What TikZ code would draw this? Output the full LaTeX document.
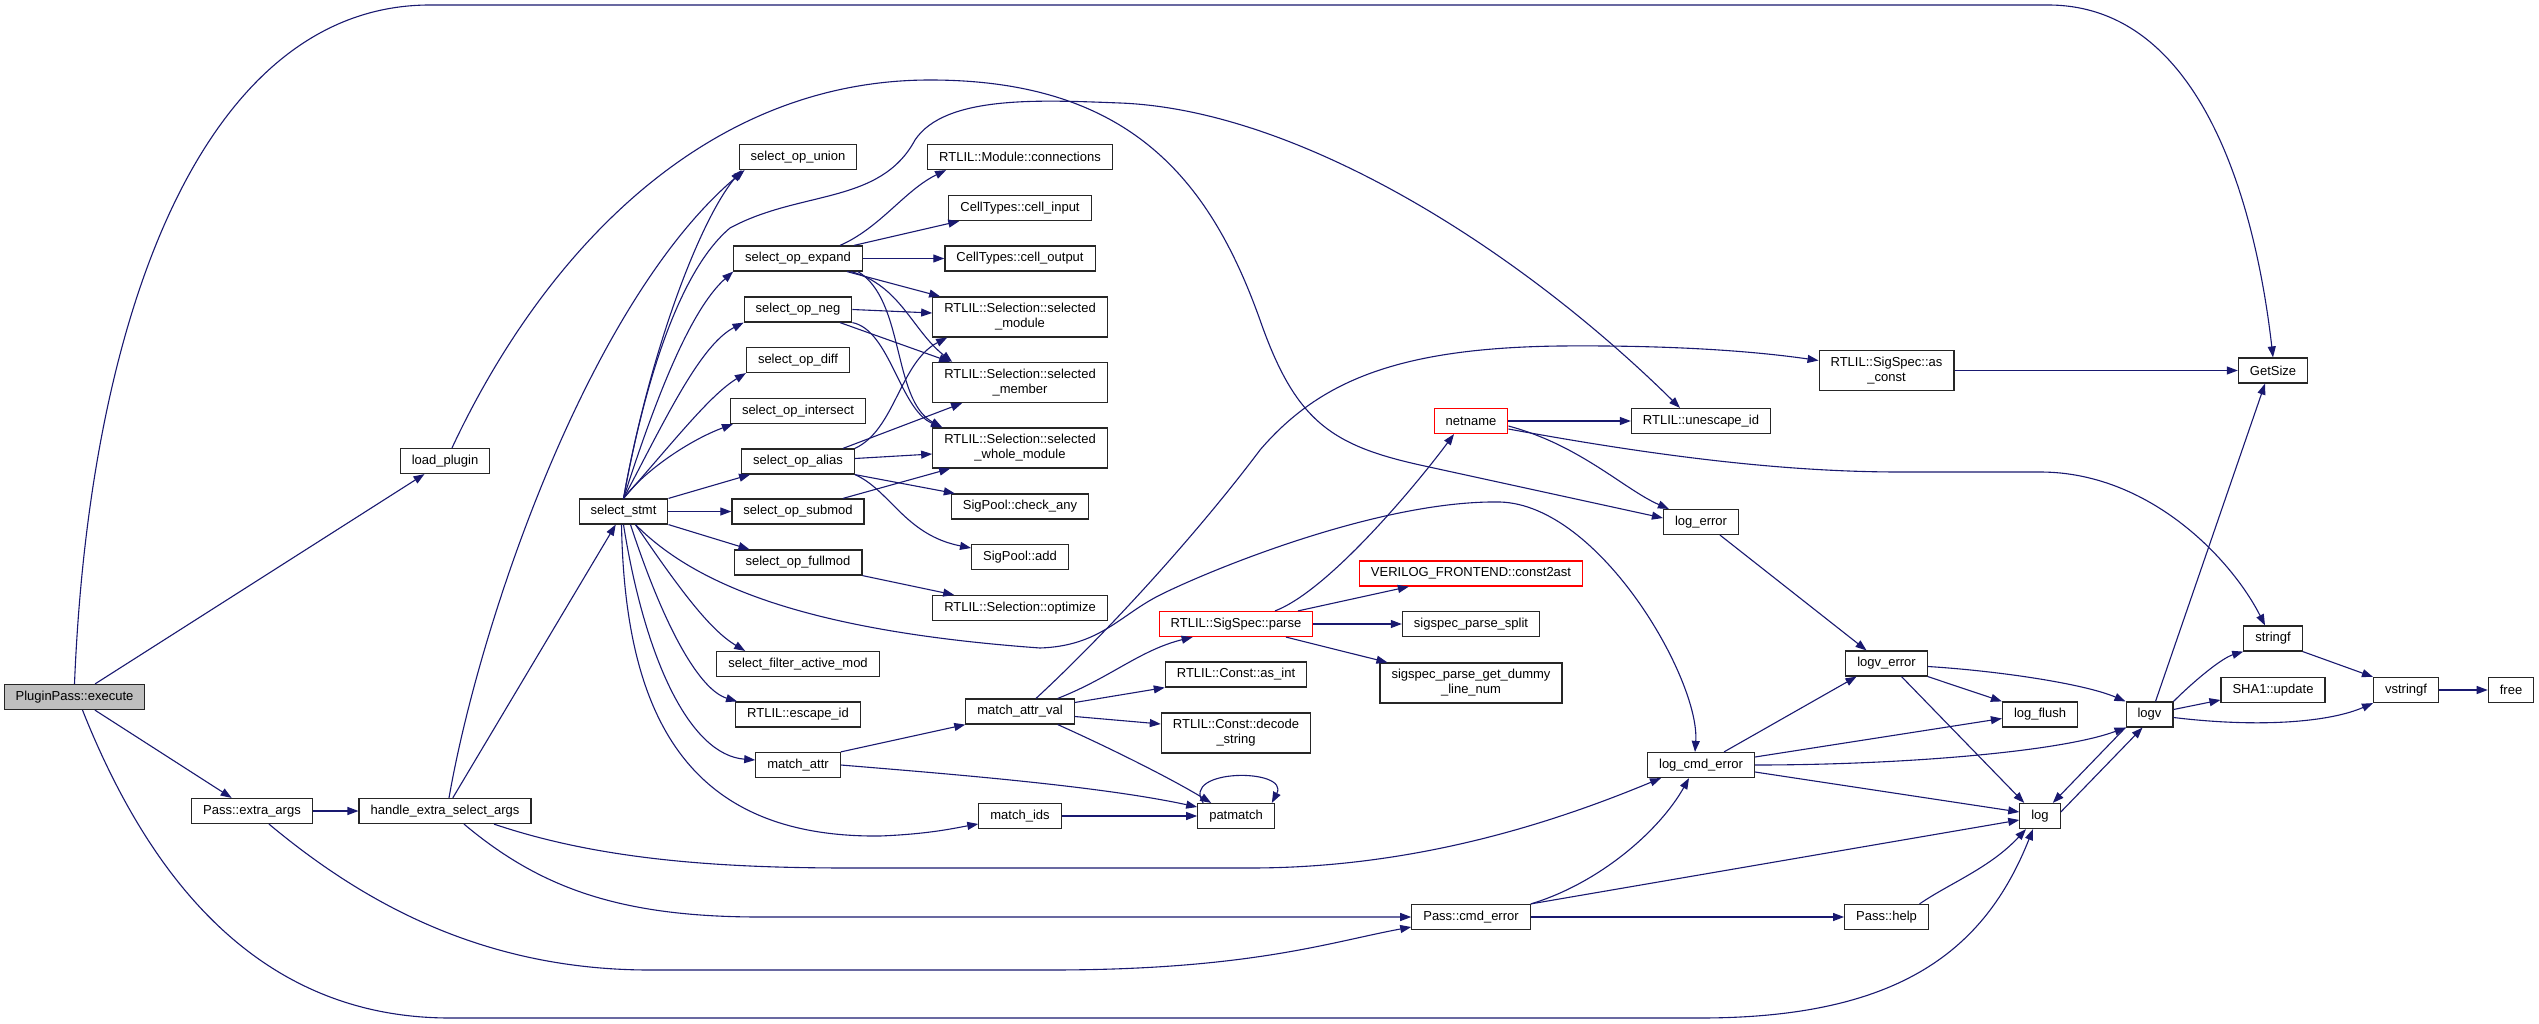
\documentclass[tikz,border=0pt]{standalone}
\usepackage{fontspec}
\newfontfamily\dfont{Liberation Sans}
\usetikzlibrary{arrows.meta}
\definecolor{edgecol}{HTML}{191970}
\tikzset{
  nbox/.style={draw=black!85, line width=1.2pt, fill=white, font=\dfont\fontsize{13pt}{15pt}\selectfont,
    inner xsep=11.5pt, inner ysep=0pt, minimum height=25pt},
  nbox2/.style={nbox, align=center, minimum height=40pt},
  conn/.style={draw=edgecol, line width=1.1pt, -{Triangle[length=11pt,width=8pt]}},
}
\begin{document}
\begin{tikzpicture}[x=1pt,y=-1pt]
\fill[white] (0,0) rectangle (2539,1024);
\useasboundingbox (0,0) rectangle (2539,1024);
% nodes
\node[nbox, fill=gray!50] (pp) at (74.5,697) {PluginPass::execute};
\node[nbox] (lp) at (445,461) {load\_plugin};
\node[nbox] (ea) at (252,811) {Pass::extra\_args};
\node[nbox] (hx) at (445,811) {handle\_extra\_select\_args};
\node[nbox] (ss) at (623.5,511.5) {select\_stmt};
\node[nbox] (un) at (798,157) {select\_op\_union};
\node[nbox] (ex) at (798,258.5) {select\_op\_expand};
\node[nbox] (ng) at (798,309.5) {select\_op\_neg};
\node[nbox] (df) at (798,360) {select\_op\_diff};
\node[nbox] (is) at (798,411) {select\_op\_intersect};
\node[nbox] (al) at (798,461.5) {select\_op\_alias};
\node[nbox] (sm) at (798,511.5) {select\_op\_submod};
\node[nbox] (fm) at (798,562.5) {select\_op\_fullmod};
\node[nbox] (fa) at (798,664) {select\_filter\_active\_mod};
\node[nbox] (ei) at (798,714.5) {RTLIL::escape\_id};
\node[nbox] (ma) at (798,765) {match\_attr};
\node[nbox] (mc) at (1020,157) {RTLIL::Module::connections};
\node[nbox] (ci) at (1020,208) {CellTypes::cell\_input};
\node[nbox] (co) at (1020,258.5) {CellTypes::cell\_output};
\node[nbox2] (smo) at (1020,317) {RTLIL::Selection::selected\\\_module};
\node[nbox2] (sme) at (1020,382.5) {RTLIL::Selection::selected\\\_member};
\node[nbox2] (swm) at (1020,448) {RTLIL::Selection::selected\\\_whole\_module};
\node[nbox] (ca) at (1020,506.5) {SigPool::check\_any};
\node[nbox] (sa) at (1020,557) {SigPool::add};
\node[nbox] (op) at (1020,608) {RTLIL::Selection::optimize};
\node[nbox] (mav) at (1020,711.5) {match\_attr\_val};
\node[nbox] (mi) at (1020,816) {match\_ids};
\node[nbox, draw=red] (pa) at (1236,624) {RTLIL::SigSpec::parse};
\node[nbox] (ai) at (1236,674.5) {RTLIL::Const::as\_int};
\node[nbox2] (ds) at (1236,733) {RTLIL::Const::decode\\\_string};
\node[nbox] (pm) at (1236,816) {patmatch};
\node[nbox, draw=red] (nn) at (1471,421) {netname};
\node[nbox, draw=red] (c2a) at (1471,573.5) {VERILOG\_FRONTEND::const2ast};
\node[nbox] (sps) at (1471,624) {sigspec\_parse\_split};
\node[nbox2] (dln) at (1471,683) {sigspec\_parse\_get\_dummy\\\_line\_num};
\node[nbox] (ce) at (1471,917) {Pass::cmd\_error};
\node[nbox] (ue) at (1701,421) {RTLIL::unescape\_id};
\node[nbox] (le) at (1701,522) {log\_error};
\node[nbox] (lce) at (1701,765) {log\_cmd\_error};
\node[nbox2] (ac) at (1886.5,370.5) {RTLIL::SigSpec::as\\\_const};
\node[nbox] (lve) at (1886.5,663.5) {logv\_error};
\node[nbox] (ph) at (1886.5,917) {Pass::help};
\node[nbox] (lf) at (2040,714.5) {log\_flush};
\node[nbox] (lg) at (2040,816) {log};
\node[nbox] (lv) at (2149.5,714.5) {logv};
\node[nbox] (gs) at (2273,370.5) {GetSize};
\node[nbox] (sf) at (2273,638.5) {stringf};
\node[nbox] (sh) at (2273,690) {SHA1::update};
\node[nbox] (vs) at (2406,690) {vstringf};
\node[nbox] (fr) at (2511,690) {free};
% edges from PluginPass::execute
\draw[conn] (pp.north) .. controls (90,300) and (210,5) .. (430,5) -- (2048,5) .. controls (2200,5) and (2255,200) .. (gs.north);
\draw[conn] (pp) -- (lp);
\draw[conn] (pp) -- (ea);
\draw[conn] ([xshift=8pt]pp.south) .. controls (150,880) and (260,1018) .. (450,1018) -- (1700,1018) .. controls (1900,1018) and (1985,950) .. ([xshift=-7pt]lg.south);
% load_plugin
\draw[conn] ([xshift=7pt]lp.north) .. controls (540,260) and (700,80) .. (930,80) .. controls (1130,80) and (1210,180) .. (1260,320) .. controls (1295,420) and (1330,445) .. (1420,465) -- ([yshift=4pt]le.west);
% extra args / handle
\draw[conn] (ea) -- (hx);
\draw[conn] (hx) -- (ss);
\draw[conn] ([xshift=4pt]hx.north) .. controls (480,620) and (590,300) .. ([xshift=6pt]un.south west);
\draw[conn] ([xshift=49pt]hx.south) .. controls (600,860) and (720,868) .. (850,868) -- (1250,868) .. controls (1420,868) and (1560,820) .. ([xshift=14pt]lce.south west);
\draw[conn] ([xshift=19pt]hx.south) .. controls (540,888) and (620,917) .. (760,917) -- (ce.west);
\draw[conn] ([xshift=17pt]ea.south) .. controls (360,900) and (480,970) .. (650,970) -- (1050,970) .. controls (1250,970) and (1330,942) .. ([yshift=-10pt]ce.west);
% select_stmt
\draw[conn] (ss.north) .. controls (650,350) and (700,220) .. ([xshift=3pt]un.south west);
\draw[conn] (ss.north) .. controls (645,380) and (680,270) .. (730,228) .. controls (800,190) and (880,205) .. (915,140) .. controls (945,95) and (1040,100) .. (1120,103) .. controls (1300,110) and (1520,250) .. ([xshift=-21pt]ue.north);
\draw[conn] (ss.north) .. controls (655,400) and (690,310) .. (ex.south west);
\draw[conn] (ss.north) .. controls (665,420) and (700,345) .. (ng.south west);
\draw[conn] (ss.north) .. controls (675,440) and (710,395) .. (df.south west);
\draw[conn] (ss.north) .. controls (645,470) and (690,440) .. ([xshift=3pt]is.south west);
\draw[conn] (ss.north east) -- ([xshift=9pt]al.south west);
\draw[conn] (ss.east) -- (sm.west);
\draw[conn] (ss.south east) -- ([xshift=16pt]fm.north west);
\draw[conn] ([xshift=12pt]ss.south) .. controls (680,590) and (710,630) .. ([xshift=29pt]fa.north west);
\draw[conn] ([xshift=7pt]ss.south) .. controls (665,630) and (700,690) .. ([xshift=2pt]ei.north west);
\draw[conn] (ss.south) .. controls (645,660) and (690,755) .. ([yshift=5pt]ma.west);
\draw[conn] ([xshift=-2pt]ss.south) .. controls (625,720) and (690,838) .. (880,836) .. controls (930,834) and (955,828) .. ([yshift=-8pt]mi.west);
\draw[conn] ([xshift=12pt]ss.south) .. controls (700,590) and (820,632) .. (1040,648) .. controls (1100,646) and (1120,615) .. (1160,595) .. controls (1210,570) and (1380,500) .. (1500,502) .. controls (1600,505) and (1700,680) .. ([xshift=-6pt]lce.north);
% select_op_expand
\draw[conn] ([xshift=42pt]ex.north) .. controls (880,228) and (905,190) .. ([xshift=19pt]mc.south west);
\draw[conn] ([xshift=56pt]ex.north) -- ([xshift=11pt]ci.south west);
\draw[conn] (ex.east) -- (co.west);
\draw[conn] ([xshift=49pt]ex.south) -- ([xshift=8pt]smo.north west);
\draw[conn] ([xshift=53pt]ex.south) .. controls (900,285) and (912,330) .. ([xshift=20pt]sme.north west);
\draw[conn] ([xshift=60pt]ex.south) .. controls (905,300) and (892,400) .. ([xshift=10pt]swm.north west);
% select_op_neg
\draw[conn] (ng.east) -- ([yshift=4pt]smo.west);
\draw[conn] ([xshift=42pt]ng.south) -- ([xshift=18pt]sme.north west);
\draw[conn] (ng.south east) .. controls (890,330) and (900,410) .. ([xshift=10pt]swm.north west);
% select_op_alias
\draw[conn] (al.north east) .. controls (895,430) and (900,362) .. ([xshift=15pt]smo.south west);
\draw[conn] ([xshift=45pt]al.north) -- ([xshift=30pt]sme.south west);
\draw[conn] ([yshift=3pt]al.east) -- ([yshift=-6pt]swm.west);
\draw[conn] (al.south east) -- ([xshift=4pt]ca.north west);
\draw[conn] (al.south east) .. controls (890,490) and (905,535) .. ([yshift=9pt]sa.west);
% submod, fullmod
\draw[conn] ([xshift=45pt]sm.north) -- ([xshift=18pt]swm.south west);
\draw[conn] (fm.south east) -- ([xshift=22pt]op.north west);
% match_attr, match_ids, match_attr_val
\draw[conn] (ma.north east) -- (mav.south west);
\draw[conn] (ma.east) .. controls (950,774) and (1100,786) .. ([yshift=9pt]pm.west);
\draw[conn] (mi.east) -- (pm.west);
\draw[conn] ([xshift=-17pt]mav.north east) .. controls (1110,678) and (1140,650) .. ([xshift=34pt]pa.south west);
\draw[conn] ([xshift=16pt]mav.north) .. controls (1110,630) and (1200,530) .. (1260,450) .. controls (1320,380) and (1400,348) .. (1560,346) .. controls (1680,345) and (1760,352) .. ([yshift=10pt]ac.west);
\draw[conn] ([yshift=9pt]mav.east) -- (ai.south west);
\draw[conn] ([yshift=-5pt]mav.east) -- ([yshift=9pt]ds.west);
\draw[conn] ([xshift=-17pt]mav.south east) .. controls (1110,748) and (1170,778) .. ([xshift=14pt]pm.north west);
\draw[conn] ([xshift=6pt]pm.north west) .. controls (1180,768) and (1290,768) .. ([xshift=-3pt]pm.north east);
% RTLIL::SigSpec::parse
\draw[conn] ([xshift=39pt]pa.north) .. controls (1330,590) and (1420,480) .. ([xshift=-17pt]nn.south);
\draw[conn] ([xshift=62pt]pa.north) -- ([xshift=50pt]c2a.south west);
\draw[conn] (pa.east) -- (sps.west);
\draw[conn] ([xshift=50pt]pa.south) -- ([xshift=8pt]dln.north west);
% netname
\draw[conn] (nn.east) -- (ue.west);
\draw[conn] ([yshift=-5pt]nn.east) .. controls (1580,445) and (1625,490) .. ([xshift=6pt]le.north west);
\draw[conn] ([yshift=-8pt]nn.east) .. controls (1650,455) and (1780,472) .. (1900,472) -- (2040,472) .. controls (2150,472) and (2232,560) .. ([xshift=-8pt]sf.north);
% log functions
\draw[conn] ([xshift=19pt]le.south) -- ([xshift=-20pt]lve.north);
\draw[conn] ([xshift=23pt]lce.north) -- ([xshift=-30pt]lve.south);
\draw[conn] ([yshift=8pt]lce.east) -- ([yshift=-4pt]lf.west);
\draw[conn] (lce.east) .. controls (1900,765) and (2060,752) .. (lv.south west);
\draw[conn] ([yshift=-7pt]lce.east) -- ([yshift=4pt]lg.west);
\draw[conn] (lve.south east) -- (lf.north west);
\draw[conn] ([yshift=-3pt]lve.east) .. controls (2000,671) and (2085,684) .. (lv.north west);
\draw[conn] ([xshift=15pt]lve.south) -- ([xshift=5pt]lg.north west);
\draw[conn] (ce.north east) .. controls (1600,883) and (1660,830) .. ([xshift=-12pt]lce.south);
\draw[conn] (ce.north east) -- ([yshift=-4pt]lg.west);
\draw[conn] (ce.east) -- (ph.west);
\draw[conn] ([xshift=33pt]ph.north) .. controls (1950,883) and (1990,868) .. ([xshift=-14pt]lg.south);
\draw[conn] ([yshift=4pt]lg.east) -- ([xshift=-7pt]lv.south);
\draw[conn] (lv.south west) -- ([xshift=-8pt]lg.north east);
\draw[conn] ([xshift=6pt]lv.north) -- ([xshift=-8pt]gs.south);
\draw[conn] (lv.north east) .. controls (2195,680) and (2222,658) .. (sf.south west);
\draw[conn] ([yshift=5pt]lv.east) -- ([yshift=-10pt]sh.west);
\draw[conn] ([yshift=-3pt]lv.east) .. controls (2260,728) and (2330,722) .. (vs.south west);
\draw[conn] (sf.south east) -- (vs.north west);
\draw[conn] (vs.east) -- (fr.west);
\draw[conn] (ac.east) -- (gs.west);
\end{tikzpicture}
\end{document}
